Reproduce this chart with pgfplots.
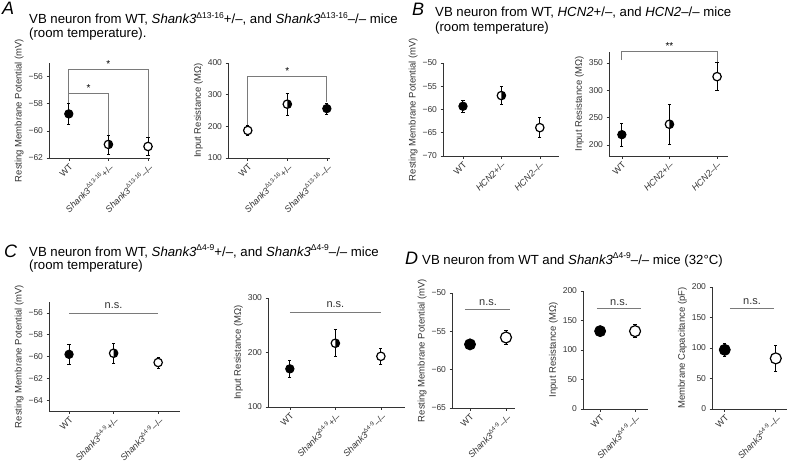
\documentclass[border=0pt]{standalone}
\usepackage{fontspec}
\setmainfont{Liberation Sans}
\usepackage{pgfplots}
\pgfplotsset{compat=1.18}

\newcommand\fs[1]{\fontsize{#1}{#1}\selectfont}
\newcommand\sh[1]{\textit{Shank3}\textsuperscript{Δ#1}}
\newcommand\shT[1]{\textit{Shank3}\raisebox{0.75ex}{\fs{8.5}Δ#1}}
\definecolor{brk}{HTML}{7A7A7A}
\definecolor{axc}{HTML}{333333}

\pgfdeclareplotmark{halfc}{%
  \pgfpathcircle{\pgfpointorigin}{\pgfplotmarksize}%
  \pgfsetfillcolor{white}\pgfusepath{fill}%
  \pgfpathmoveto{\pgfpoint{0pt}{\pgfplotmarksize}}%
  \pgfpatharc{90}{-90}{\pgfplotmarksize}%
  \pgfpathclose
  \pgfsetfillcolor{black}\pgfusepath{fill}%
  \pgfpathcircle{\pgfpointorigin}{\pgfplotmarksize}%
  \pgfusepath{stroke}%
}

\pgfplotsset{
  panel/.style={
    scale only axis, clip=false, anchor=south west,
    /pgf/number format/assume math mode=true,
    axis x line*=bottom, axis y line*=left,
    x axis line style={-}, y axis line style={-},
    axis line style={line width=0.7pt, axc},
    tick align=outside, major tick length=2.5pt,
    tick style={axc, line width=0.6pt},
    yticklabel style={font=\fs{8.5}, text=axc},
    xticklabel style={font=\fs{9}, text=axc, rotate=45, anchor=north east, inner sep=1.5pt},
    label style={font=\fs{9.5}, text=axc},
    xtick={0,1,2},
    ylabel style={yshift=-2pt},
  },
  eb/.style={error bars/.cd, y dir=both, y explicit,
    error bar style={line width=1pt, black},
    error mark options={rotate=90, mark size=1.6pt, line width=0.8pt}},
  filled/.style={only marks, mark=*, mark size=#1,
    mark options={fill=black, draw=black, line width=0.9pt}, eb},
  filled/.default=4.2pt,
  open/.style={only marks, mark=*, mark size=#1,
    mark options={fill=white, draw=black, line width=1.2pt}, eb},
  open/.default=4.2pt,
  half/.style={only marks, mark=halfc, mark size=#1,
    mark options={draw=black, line width=1.2pt}, eb},
  half/.default=4.2pt,
  bracket/.style={brk, line width=0.8pt, no marks, sharp plot},
}

\begin{document}
\begin{tikzpicture}
\useasboundingbox (0pt,0pt) rectangle (797pt,467pt);

% ---------- Titles ----------
\node[anchor=base west, inner sep=0] at (2pt,452pt) {\fs{18}\itshape A};
\node[anchor=base west, inner sep=0] at (29pt,443pt) {\fs{13.2}VB neuron from WT, \shT{13-16}+/–, and \shT{13-16}–/– mice};
\node[anchor=base west, inner sep=0] at (29pt,429.5pt) {\fs{13.2}(room temperature).};
\node[anchor=base west, inner sep=0] at (412pt,451pt) {\fs{18}\itshape B};
\node[anchor=base west, inner sep=0] at (435pt,450.5pt) {\fs{13.2}VB neuron from WT, \textit{HCN2}+/–, and \textit{HCN2}–/– mice};
\node[anchor=base west, inner sep=0] at (435pt,435pt) {\fs{13.2}(room temperature)};
\node[anchor=base west, inner sep=0] at (4pt,210pt) {\fs{18}\itshape C};
\node[anchor=base west, inner sep=0] at (29pt,211pt) {\fs{13.2}VB neuron from WT, \shT{4-9}+/–, and \shT{4-9}–/– mice};
\node[anchor=base west, inner sep=0] at (29pt,197.5pt) {\fs{13.2}(room temperature)};
\node[anchor=base west, inner sep=0] at (405pt,203pt) {\fs{18}\itshape D};
\node[anchor=base west, inner sep=0] at (422pt,203pt) {\fs{13.2}VB neuron from WT and \shT{4-9}–/– mice (32°C)};

% ---------- A1 ----------
\begin{axis}[panel, at={(49pt,309pt)}, width=101pt, height=95pt,
  xmin=-0.5, xmax=2.05, ymin=-62, ymax=-55,
  ytick={-62,-60,-58,-56}, yticklabels={−62,−60,−58,−56},
  xticklabels={WT, \sh{13-16}+/–, \sh{13-16}–/–},
  ylabel={Resting Membrane Potential (mV)}]
\addplot[bracket] coordinates {(0,-58.0) (0,-55.5) (2,-55.5) (2,-60.5)};
\addplot[bracket] coordinates {(0,-57.25) (1,-57.25) (1,-60.3)};
\node[anchor=base, font=\fs{10}] at (axis cs:1,-55.35) {*};
\node[anchor=base, font=\fs{10}] at (axis cs:0.5,-57.1) {*};
\addplot[filled] table[y error=e] {x y e
0 -58.75 0.75
};
\addplot[half] table[y error=e] {x y e
1 -61.0 0.7
};
\addplot[open] table[y error=e] {x y e
2 -61.15 0.65
};
\end{axis}

% ---------- A2 ----------
\begin{axis}[panel, at={(228pt,309pt)}, width=102pt, height=95pt,
  xmin=-0.5, xmax=2.08, ymin=100, ymax=400,
  ytick={100,200,300,400},
  xticklabels={WT, \sh{13-16}+/–, \sh{13-16}–/–},
  ylabel={Input Resistance (MΩ)}]
\addplot[bracket] coordinates {(0,202) (0,359) (2,359) (2,276)};
\node[anchor=base, font=\fs{10}] at (axis cs:1,363) {*};
\addplot[open] table[y error=e] {x y e
0 187 15
};
\addplot[half] table[y error=e] {x y e
1 270 35
};
\addplot[filled] table[y error=e] {x y e
2 256 18
};
\end{axis}

% ---------- B1 ----------
\begin{axis}[panel, at={(443pt,311pt)}, width=116pt, height=93pt,
  xmin=-0.52, xmax=2.5, ymin=-70, ymax=-50,
  ytick={-70,-65,-60,-55,-50}, yticklabels={−70,−65,−60,−55,−50},
  xticklabels={WT, \textit{HCN2}+/–, \textit{HCN2}–/–},
  ylabel={Resting Membrane Potential (mV)}]
\addplot[filled] table[y error=e] {x y e
0 -59.3 1.3
};
\addplot[half] table[y error=e] {x y e
1 -57.0 2.0
};
\addplot[open] table[y error=e] {x y e
2 -63.9 2.1
};
\end{axis}

% ---------- B2 ----------
\begin{axis}[panel, at={(609pt,311pt)}, width=119pt, height=104pt,
  xmin=-0.27, xmax=2.23, ymin=180, ymax=370,
  ytick={200,250,300,350},
  xticklabels={WT, \textit{HCN2}+/–, \textit{HCN2}–/–},
  ylabel={Input Resistance (MΩ)}]
\addplot[bracket] coordinates {(0,355) (0,372) (2,372) (2,352)};
\node[anchor=base, font=\fs{10}] at (axis cs:1,374) {**};
\addplot[filled] table[y error=e] {x y e
0 219 21
};
\addplot[half] table[y error=e] {x y e
1 238 37
};
\addplot[open] table[y error=e] {x y e
2 325 26
};
\end{axis}

% ---------- C1 ----------
\begin{axis}[panel, at={(49pt,56pt)}, width=131pt, height=109pt,
  xmin=-0.45, xmax=2.49, ymin=-65, ymax=-55,
  ytick={-64,-62,-60,-58,-56}, yticklabels={−64,−62,−60,−58,−56},
  xticklabels={WT, \sh{4-9}+/–, \sh{4-9}–/–},
  ylabel={Resting Membrane Potential (mV)}]
\addplot[bracket] coordinates {(0,-56.05) (2,-56.05)};
\node[anchor=base, font=\fs{11}, text=axc] at (axis cs:1,-55.6) {n.s.};
\addplot[filled] table[y error=e] {x y e
0 -59.8 0.9
};
\addplot[half] table[y error=e] {x y e
1 -59.7 0.9
};
\addplot[open] table[y error=e] {x y e
2 -60.55 0.5
};
\end{axis}

% ---------- C2 ----------
\begin{axis}[panel, at={(268pt,60pt)}, width=137pt, height=109pt,
  xmin=-0.48, xmax=2.53, ymin=100, ymax=300,
  ytick={100,200,300},
  xticklabels={WT, \sh{4-9}+/–, \sh{4-9}–/–},
  ylabel={Input Resistance (MΩ)}]
\addplot[bracket] coordinates {(0,274) (2,274)};
\node[anchor=base, font=\fs{11}, text=axc] at (axis cs:1,282) {n.s.};
\addplot[filled] table[y error=e] {x y e
0 170 15
};
\addplot[half] table[y error=e] {x y e
1 217 25
};
\addplot[open] table[y error=e] {x y e
2 193 14
};
\end{axis}

% ---------- D1 ----------
\begin{axis}[panel, at={(452pt,59pt)}, width=63pt, height=115pt,
  xmin=-0.5, xmax=1.25, ymin=-65, ymax=-50,
  xtick={0,1},
  ytick={-65,-60,-55,-50}, yticklabels={−65,−60,−55,−50},
  xticklabels={WT, \sh{4-9}–/–},
  ylabel={Resting Membrane Potential (mV)}]
\addplot[bracket] coordinates {(-0.14,-52.1) (1.11,-52.1)};
\node[anchor=base, font=\fs{11}, text=axc] at (axis cs:0.5,-51.6) {n.s.};
\addplot[filled=5.5pt] table[y error=e] {x y e
0 -56.7 0.35
};
\addplot[open=5.5pt] table[y error=e] {x y e
1 -55.8 0.9
};
\end{axis}

% ---------- D2 ----------
\begin{axis}[panel, at={(583pt,58pt)}, width=65pt, height=118pt,
  xmin=-0.49, xmax=1.37, ymin=0, ymax=200,
  xtick={0,1},
  ytick={0,50,100,150,200},
  xticklabels={WT, \sh{4-9}–/–},
  ylabel={Input Resistance (MΩ)}]
\addplot[bracket] coordinates {(-0.09,170) (1.17,170)};
\node[anchor=base, font=\fs{11}, text=axc] at (axis cs:0.54,176) {n.s.};
\addplot[filled=5.5pt] table[y error=e] {x y e
0 132 8
};
\addplot[open=5.5pt] table[y error=e] {x y e
1 132 11
};
\end{axis}

% ---------- D3 ----------
\begin{axis}[panel, at={(712pt,58pt)}, width=75pt, height=122pt,
  xmin=-0.25, xmax=1.22, ymin=0, ymax=200,
  xtick={0,1},
  ytick={0,50,100,150,200},
  xticklabels={WT, \sh{4-9}–/–},
  ylabel={Membrane Capacitance (pF)}]
\addplot[bracket] coordinates {(0.1,165) (0.97,165)};
\node[anchor=base, font=\fs{11}, text=axc] at (axis cs:0.535,171) {n.s.};
\addplot[filled=5.5pt] table[y error=e] {x y e
0 97 10.5
};
\addplot[open=5.5pt] table[y error=e] {x y e
1 83 22
};
\end{axis}
\end{tikzpicture}
\end{document}
